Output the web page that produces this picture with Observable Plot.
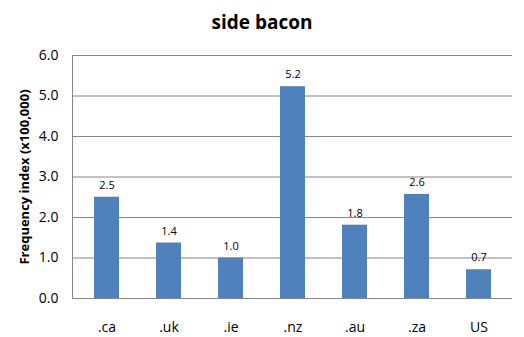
<!DOCTYPE html>
<html><head><meta charset="utf-8">
<script src="https://cdn.jsdelivr.net/npm/d3@7"></script>
<script src="https://cdn.jsdelivr.net/npm/@observablehq/plot@0.6"></script>
<style>
body{margin:0;background:#fff;width:524px;height:337px;overflow:hidden;font-family:"Open Sans",sans-serif;}
#title{height:40px;line-height:44px;text-align:center;font-weight:bold;font-size:19px;color:#000;}
</style></head><body>
<div id="title">side bacon</div>
<div id="chart"></div>
<script>
const categories = [".ca", ".uk", ".ie", ".nz", ".au", ".za", "US"];
const values = [2.5, 1.37, 1.0, 5.23, 1.81, 2.57, 0.71];
const yTicks = [0, 1, 2, 3, 4, 5, 6];
const yLabel = "Frequency index (x100,000)";

const data = categories.map((c, i) => ({cat: c, v: values[i]}));

const chart = Plot.plot({
  width: 524, height: 297,
  marginLeft: 72, marginRight: 12, marginTop: 15, marginBottom: 39,
  style: {fontFamily: "Open Sans, sans-serif", fontSize: "14px", color: "#000"},
  x: {domain: categories, paddingInner: 0.6, paddingOuter: 0.3, label: null, tickSize: 0, tickPadding: 24},
  y: {domain: [0, 6], ticks: yTicks, tickFormat: d => d.toFixed(1), label: null, tickSize: 0, tickPadding: 14},
  marks: [
    Plot.ruleY(yTicks, {stroke: "#868686", strokeWidth: 1}),
    Plot.frame({anchor: "left", stroke: "#868686"}),
    Plot.barY(data, {x: "cat", y: "v", fill: "#4F81BD"}),
    Plot.text(data, {x: "cat", y: "v", text: d => d.v.toFixed(1), dy: -12, fontSize: 11, fill: "#000"}),
    Plot.text([yLabel], {frameAnchor: "left", dx: -48, rotate: -90, textAnchor: "middle", fontWeight: "bold", fontSize: 13, fill: "#000"})
  ]
});
document.getElementById("chart").appendChild(chart);
</script></body></html>
